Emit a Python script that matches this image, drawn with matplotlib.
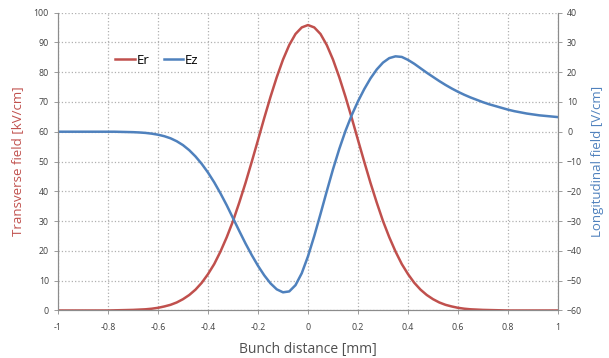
import matplotlib.pyplot as plt

# bunch distance [mm]
distance = [-1.0, -0.975, -0.95, -0.925, -0.9, -0.875, -0.85, -0.825, -0.8, -0.775,
            -0.75, -0.725, -0.7, -0.675, -0.65, -0.625, -0.6, -0.575, -0.55, -0.525,
            -0.5, -0.475, -0.45, -0.425, -0.4, -0.375, -0.35, -0.325, -0.3, -0.275,
            -0.25, -0.225, -0.2, -0.175, -0.15, -0.125, -0.1, -0.075, -0.05, -0.025,
            0.0, 0.025, 0.05, 0.075, 0.1, 0.125, 0.15, 0.175, 0.2, 0.225,
            0.25, 0.275, 0.3, 0.325, 0.35, 0.375, 0.4, 0.425, 0.45, 0.475,
            0.5, 0.525, 0.55, 0.575, 0.6, 0.625, 0.65, 0.675, 0.7, 0.725,
            0.75, 0.775, 0.8, 0.825, 0.85, 0.875, 0.9, 0.925, 0.95, 0.975, 1.0]

# transverse field Er [kV/cm]
er = [0.0, 0.0, 0.0, 0.0, 0.0, 0.0, 0.0, 0.0, 0.0, 0.05,
      0.1, 0.15, 0.2, 0.3, 0.4, 0.6, 0.9, 1.35, 1.9, 2.7,
      3.8, 5.2, 7.0, 9.3, 12.2, 15.6, 19.8, 24.6, 30.0, 36.2,
      42.8, 49.9, 57.2, 64.6, 71.7, 78.3, 84.2, 89.1, 92.8, 95.0,
      95.8, 95.0, 92.8, 89.1, 84.2, 78.3, 71.7, 64.6, 57.2, 49.9,
      42.8, 36.2, 30.0, 24.6, 19.8, 15.6, 12.2, 9.3, 7.0, 5.2,
      3.8, 2.7, 1.9, 1.35, 0.9, 0.6, 0.4, 0.3, 0.2, 0.15,
      0.1, 0.05, 0.0, 0.0, 0.0, 0.0, 0.0, 0.0, 0.0, 0.0, 0.0]

# longitudinal field Ez [V/cm]
ez = [0.0, 0.0, 0.0, 0.0, 0.0, 0.0, 0.0, 0.0, 0.0, 0.0,
      -0.05, -0.1, -0.15, -0.25, -0.4, -0.65, -1.0, -1.5, -2.2, -3.2,
      -4.5, -6.2, -8.3, -10.8, -13.7, -17.0, -20.7, -24.7, -29.0, -33.3,
      -37.5, -41.4, -45.0, -48.2, -50.9, -52.9, -53.9, -53.6, -51.5, -47.5,
      -41.8, -35.0, -27.6, -20.0, -12.6, -5.8, 0.3, 5.6, 10.2, 14.3,
      17.9, 20.9, 23.2, 24.7, 25.3, 25.1, 24.1, 22.8, 21.3, 19.8,
      18.4, 17.0, 15.7, 14.5, 13.4, 12.4, 11.5, 10.7, 9.9, 9.2,
      8.6, 8.0, 7.4, 6.9, 6.5, 6.1, 5.8, 5.5, 5.3, 5.1, 4.9]

x_ticks = [-1, -0.8, -0.6, -0.4, -0.2, 0, 0.2, 0.4, 0.6, 0.8, 1]
x_tick_labels = ["-1", "-0.8", "-0.6", "-0.4", "-0.2", "0", "0.2", "0.4", "0.6", "0.8", "1"]
left_ticks = list(range(0, 101, 10))
right_ticks = list(range(-60, 41, 10))

RED = "#C0504D"
BLUE = "#4F81BD"
GRID = "#b0b0b0"
SPINE = "#8c8c8c"
TICK_TXT = "#404040"

plt.rcParams["font.family"] = ["Open Sans", "DejaVu Sans"]

fig = plt.figure(figsize=(6.09, 3.58), dpi=100)
ax = fig.add_axes([0.0952, 0.1327, 0.8211, 0.8323])
ax2 = ax.twinx()

line_er, = ax.plot(distance, er, color=RED, lw=1.8, label="Er")
line_ez, = ax2.plot(distance, ez, color=BLUE, lw=1.8, label="Ez")

ax.set_xlim(-1, 1)
ax.set_ylim(0, 100)
ax2.set_ylim(-60, 40)

ax.set_xticks(x_ticks)
ax.set_xticklabels(x_tick_labels)
ax.set_yticks(left_ticks)
ax2.set_yticks(right_ticks)

ax.grid(True, color=GRID, linestyle=":", linewidth=0.9)
ax.set_axisbelow(True)

for a in (ax, ax2):
    a.tick_params(labelsize=6.3, colors=SPINE, labelcolor=TICK_TXT, length=3, width=0.6)
    a.spines["top"].set_visible(False)
    for side in ("left", "right", "bottom"):
        a.spines[side].set_color(SPINE)
        a.spines[side].set_linewidth(0.8)
ax.tick_params(axis="x", pad=6)

ax.set_xlabel("Bunch distance [mm]", fontsize=10, color="#505050", labelpad=7)
ax.set_ylabel("Transverse field [kV/cm]", fontsize=9.5, color=RED, labelpad=7)
ax2.set_ylabel("Longitudinal field [V/cm]", fontsize=9.5, color=BLUE, labelpad=6)

ax.legend(handles=[line_er, line_ez], loc="center left", bbox_to_anchor=(0.115, 0.84),
          ncol=2, frameon=False, fontsize=9.5, handlelength=1.45, handletextpad=0.15,
          columnspacing=1.1, borderaxespad=0, borderpad=0)

fig.savefig("out.png", dpi=100)
